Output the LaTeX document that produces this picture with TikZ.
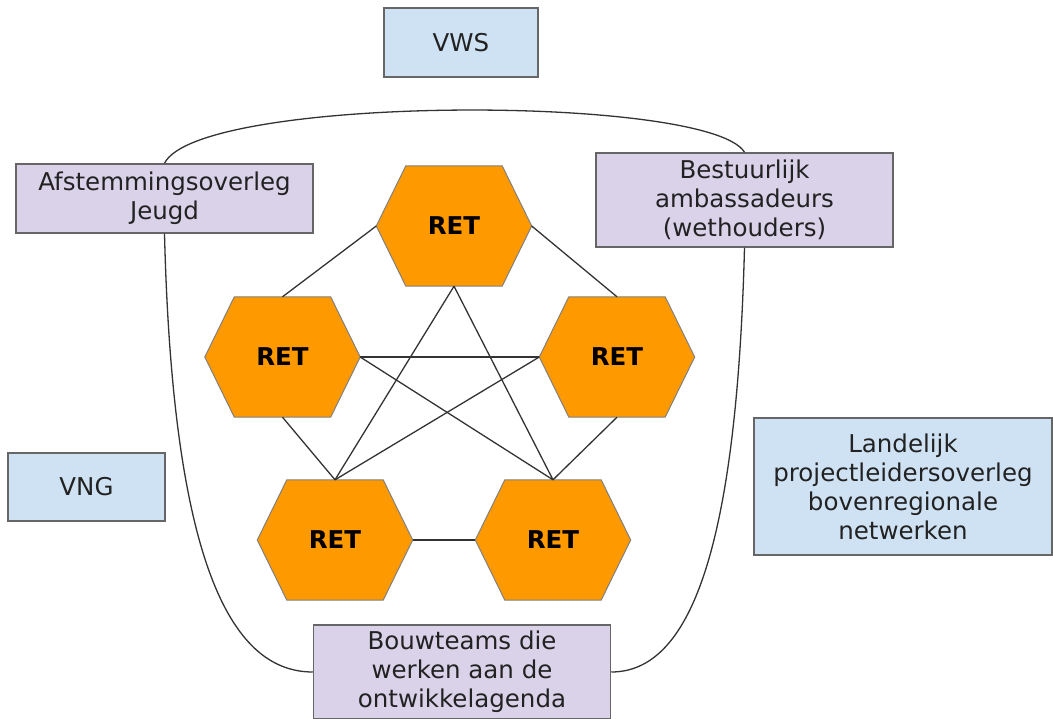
\documentclass[tikz,border=0pt]{standalone}
\usepackage{fontspec}
\setmainfont{DejaVu Sans}
\usetikzlibrary{calc,backgrounds}

\definecolor{boxblue}{HTML}{CFE2F3}
\definecolor{boxlila}{HTML}{D9D2E9}
\definecolor{retorange}{HTML}{FF9900}
\definecolor{randgrijs}{HTML}{666666}
\definecolor{tekstgrijs}{HTML}{222222}

\tikzset{
  overleg/.style={draw=randgrijs, line width=1.5pt, inner sep=2pt, align=center,
    text=tekstgrijs, font=\fontsize{24.5}{29}\selectfont},
  blauw/.style={overleg, fill=boxblue},
  lila/.style={overleg, fill=boxlila},
  ret/.style={minimum width=155pt, minimum height=120pt, inner sep=0pt,
    font=\fontsize{24.5}{29}\selectfont\bfseries},
  hexvorm/.style={fill=retorange, draw=gray, line width=1pt},
  lijn/.style={draw=black!80, line width=1.3pt},
  omtrek/.style={draw=black!80, line width=1.3pt}
}

\begin{document}
\begin{tikzpicture}[x=1pt, y=-1pt]
  \useasboundingbox (0,0) rectangle (1053,719);

  % overleggen
  \node[blauw, minimum width=154pt, minimum height=69pt] (vws) at (461,42.5) {VWS};
  \node[lila, minimum width=297pt, minimum height=69pt] (afst) at (164.5,198.5) {Afstemmingsoverleg\\Jeugd};
  \node[lila, minimum width=297pt, minimum height=94pt] (best) at (744.5,200) {Bestuurlijk\\ambassadeurs\\(wethouders)};
  \node[blauw, minimum width=298pt, minimum height=137pt] (land) at (903,486.5) {Landelijk\\projectleidersoverleg\\bovenregionale\\netwerken};
  \node[blauw, minimum width=157pt, minimum height=68pt] (vng) at (86.5,487) {VNG};
  \node[lila, minimum width=297pt, minimum height=94pt] (bouw) at (462,672) {Bouwteams die\\werken aan de\\ontwikkelagenda};

  % regionale expertteams
  \node[ret] (r1) at (454,226) {RET};
  \node[ret] (r2) at (282.5,357) {RET};
  \node[ret] (r3) at (617,357) {RET};
  \node[ret] (r4) at (335,540) {RET};
  \node[ret] (r5) at (553,540) {RET};

  \begin{scope}[on background layer]
    \foreach \i in {1,...,5}
      \path[hexvorm] (r\i.west)
        -- ($(r\i.north west)!0.19!(r\i.north east)$)
        -- ($(r\i.north east)!0.19!(r\i.north west)$)
        -- (r\i.east)
        -- ($(r\i.south east)!0.19!(r\i.south west)$)
        -- ($(r\i.south west)!0.19!(r\i.south east)$)
        -- cycle;
  \end{scope}

  % verbindingen tussen de RET's
  \draw[lijn] (r1.west) -- (r2.north);
  \draw[lijn] (r1.east) -- (r3.north);
  \draw[lijn] (r1.south) -- (r4.north);
  \draw[lijn] (r1.south) -- (r5.north);
  \draw[lijn] (r2.east) -- (r3.west);
  \draw[lijn] (r2.east) -- (r5.north);
  \draw[lijn] (r3.west) -- (r4.north);
  \draw[lijn] (r2.south) -- (r4.north);
  \draw[lijn] (r3.south) -- (r5.north);
  \draw[lijn] (r4.east) -- (r5.west);

  % omtrek
  \draw[omtrek] (afst.north) .. controls +(35,-69) and +(-35,-58) .. (best.north);
  \draw[omtrek] (afst.south) .. controls +(8,320) and +(-85,0) .. (bouw.west);
  \draw[omtrek] (best.south) .. controls +(-8,305) and +(78,0) .. (bouw.east);
\end{tikzpicture}
\end{document}
